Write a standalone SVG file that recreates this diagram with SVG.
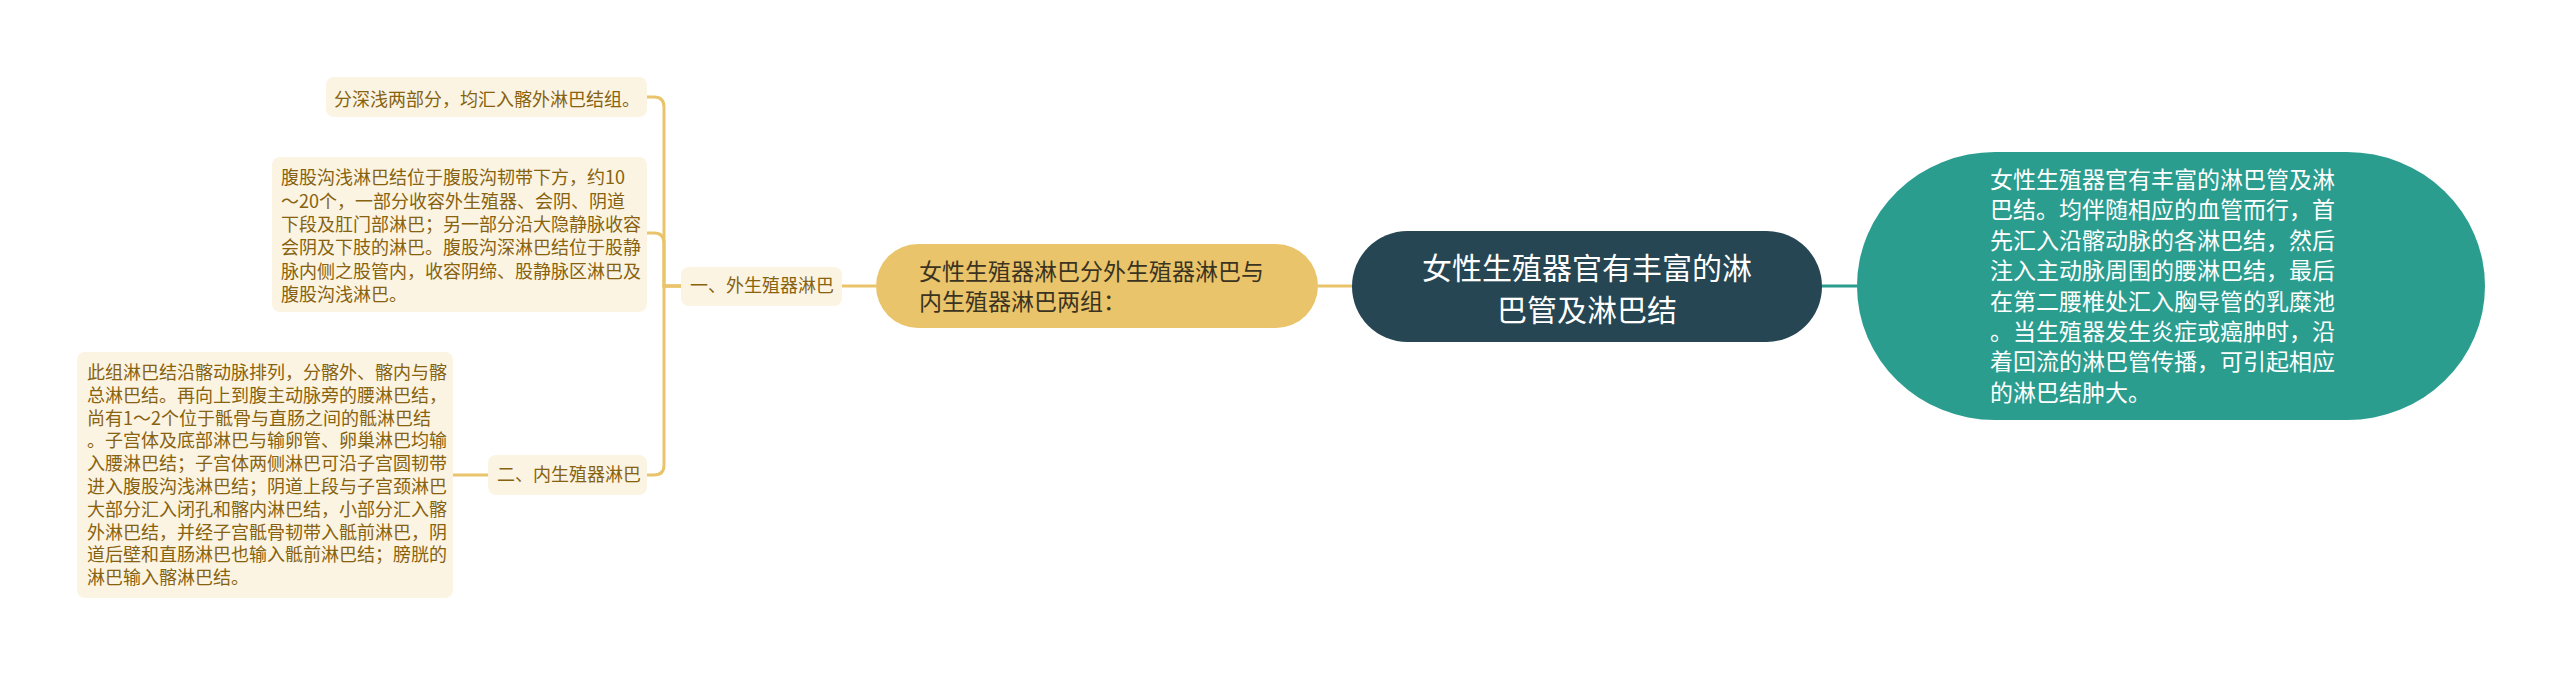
<svg xmlns="http://www.w3.org/2000/svg" width="2560" height="676" viewBox="0 0 2560 676">
<style>
text{font-family:"Noto Sans CJK SC","Noto Sans",sans-serif}
.leaf{fill:#FCF4E2}
.lt{font-size:18px;fill:#87620F}
.yl{fill:none;stroke:#E9C46A;stroke-width:3}
.tl{fill:none;stroke:#2A9D8F;stroke-width:3}
</style>
<rect width="2560" height="676" fill="#FFFFFF"/>
<g id="connectors">
<path class="tl" d="M1822,286 H1857"/>
<path class="yl" d="M1318,286 H1352"/>
<path class="yl" d="M842,286 H876"/>
<path class="yl" d="M681,286 H664 V107 Q664,97 654,97 H647"/>
<path class="yl" d="M681,286 H664 V243 Q664,233 654,233 H647"/>
<path class="yl" d="M681,286 H664 V465 Q664,475 654,475 H647"/>
<path class="yl" d="M488,475 H453"/>
</g>
<g id="root">
<rect x="1352" y="231" width="470" height="111" rx="55.5" fill="#264653"/>
<text x="1587" y="279" font-size="30" fill="#FFFFFF" text-anchor="middle">女性生殖器官有丰富的淋</text>
<text x="1587" y="321" font-size="30" fill="#FFFFFF" text-anchor="middle">巴管及淋巴结</text>
</g>
<g id="summary">
<rect x="1857" y="152" width="628" height="268" rx="138" ry="134" fill="#2A9D8F"/>
<g font-size="23" fill="#FFFFFF">
<text x="1990" y="188">女性生殖器官有丰富的淋巴管及淋</text>
<text x="1990" y="218">巴结。均伴随相应的血管而行，首</text>
<text x="1990" y="249">先汇入沿髂动脉的各淋巴结，然后</text>
<text x="1990" y="279">注入主动脉周围的腰淋巴结，最后</text>
<text x="1990" y="310">在第二腰椎处汇入胸导管的乳糜池</text>
<text x="1990" y="340">。当生殖器发生炎症或癌肿时，沿</text>
<text x="1990" y="370">着回流的淋巴管传播，可引起相应</text>
<text x="1990" y="401">的淋巴结肿大。</text>
</g>
</g>
<g id="main-branch">
<rect x="876" y="244" width="442" height="84" rx="42" fill="#E9C46A"/>
<text x="919" y="280" font-size="23" fill="#3B3321">女性生殖器淋巴分外生殖器淋巴与</text>
<text x="919" y="310" font-size="23" fill="#3B3321">内生殖器淋巴两组：</text>
</g>
<g id="external">
<rect class="leaf" x="681" y="267" width="161" height="39" rx="8"/>
<text class="lt" x="690" y="292">一、外生殖器淋巴</text>
</g>
<g id="internal">
<rect class="leaf" x="488" y="455" width="159" height="40" rx="8"/>
<text class="lt" x="497" y="481">二、内生殖器淋巴</text>
</g>
<g id="leaf-1">
<rect class="leaf" x="326" y="77" width="321" height="40" rx="8"/>
<text class="lt" x="334" y="106">分深浅两部分，均汇入髂外淋巴结组。</text>
</g>
<g id="leaf-2">
<rect class="leaf" x="272" y="157" width="375" height="155" rx="8"/>
<g class="lt">
<text x="281" y="184">腹股沟浅淋巴结位于腹股沟韧带下方，约10</text>
<text x="281" y="208">～20个，一部分收容外生殖器、会阴、阴道</text>
<text x="281" y="231">下段及肛门部淋巴；另一部分沿大隐静脉收容</text>
<text x="281" y="254">会阴及下肢的淋巴。腹股沟深淋巴结位于股静</text>
<text x="281" y="278">脉内侧之股管内，收容阴缔、股静脉区淋巴及</text>
<text x="281" y="301">腹股沟浅淋巴。</text>
</g>
</g>
<g id="leaf-3">
<rect class="leaf" x="77" y="352" width="376" height="246" rx="8"/>
<g class="lt">
<text x="87" y="379">此组淋巴结沿髂动脉排列，分髂外、髂内与髂</text>
<text x="87" y="402">总淋巴结。再向上到腹主动脉旁的腰淋巴结，</text>
<text x="87" y="425">尚有1～2个位于骶骨与直肠之间的骶淋巴结</text>
<text x="87" y="447">。子宫体及底部淋巴与输卵管、卵巢淋巴均输</text>
<text x="87" y="470">入腰淋巴结；子宫体两侧淋巴可沿子宫圆韧带</text>
<text x="87" y="493">进入腹股沟浅淋巴结；阴道上段与子宫颈淋巴</text>
<text x="87" y="516">大部分汇入闭孔和髂内淋巴结，小部分汇入髂</text>
<text x="87" y="539">外淋巴结，并经子宫骶骨韧带入骶前淋巴，阴</text>
<text x="87" y="561">道后壁和直肠淋巴也输入骶前淋巴结；膀胱的</text>
<text x="87" y="584">淋巴输入髂淋巴结。</text>
</g>
</g>
</svg>
